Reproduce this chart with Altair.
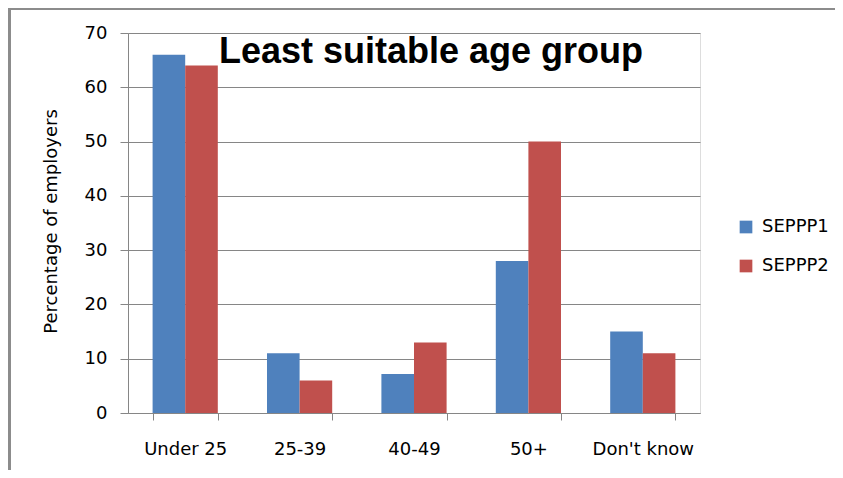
import altair as alt
import pandas as pd

categories = ["Under 25", "25-39", "40-49", "50+", "Don't know"]
series = ["SEPPP1", "SEPPP2"]
seppp1 = [66, 11, 7.2, 28, 15]
seppp2 = [64, 6, 13, 50, 11]
y_ticks = [0, 10, 20, 30, 40, 50, 60, 70]
title_text = "Least suitable age group"
y_title = "Percentage of employers"

rows = []
for i, c in enumerate(categories):
    rows.append({"group": c, "series": series[0], "value": seppp1[i]})
    rows.append({"group": c, "series": series[1], "value": seppp2[i]})
df = pd.DataFrame(rows)

GREY = "#868686"
FONT = "DejaVu Sans"
W, H = 572, 380

bars = alt.Chart(df).mark_bar(size=32.6).encode(
    x=alt.X("group:N", sort=categories,
            scale=alt.Scale(paddingInner=0.43, paddingOuter=0.215),
            axis=alt.Axis(title=None, labelAngle=0, tickBand="extent",
                          tickSize=7, labelPadding=20, labelFont=FONT,
                          labelFontSize=18, labelColor="black",
                          domainColor=GREY, tickColor=GREY, grid=False)),
    xOffset=alt.XOffset("series:N", sort=series,
                        scale=alt.Scale(paddingInner=0, paddingOuter=0)),
    y=alt.Y("value:Q", scale=alt.Scale(domain=[0, 70], nice=False),
            axis=alt.Axis(values=y_ticks, title=y_title, tickSize=8,
                          labelPadding=13, labelFont=FONT, labelFontSize=18,
                          labelColor="black", domainColor=GREY, tickColor=GREY,
                          gridColor=GREY, gridWidth=1, titleFont=FONT,
                          titleFontSize=18, titleFontWeight="normal",
                          titleColor="black", titleX=-77, titleY=188,
                          titleAngle=270, titleAlign="center",
                          titleBaseline="middle")),
    color=alt.Color("series:N", sort=series,
                    scale=alt.Scale(domain=series, range=["#4F81BD", "#C0504D"]),
                    legend=alt.Legend(title=None, orient="none", legendX=609,
                                      legendY=185, symbolType="square",
                                      symbolSize=161, symbolStrokeWidth=0,
                                      labelFont=FONT, labelFontSize=18,
                                      labelColor="black", labelOffset=7,
                                      rowPadding=21)),
)

tdf = pd.DataFrame({"t": [title_text]})
title = alt.Chart(tdf).mark_text(font="Liberation Sans", fontSize=36,
                                 fontWeight="bold", color="black",
                                 align="center", baseline="alphabetic").encode(
    text="t:N", x=alt.value(303), y=alt.value(30))

bdf = pd.DataFrame({"a": [0]})
left_border = alt.Chart(bdf).mark_rule(color="#8c8c8c", strokeWidth=3).encode(
    x=alt.value(-118.5), y=alt.value(-24), y2=alt.value(437))
top_border = alt.Chart(bdf).mark_rule(color="#8c8c8c", strokeWidth=2).encode(
    x=alt.value(-120), x2=alt.value(707), y=alt.value(-24))

chart = alt.layer(bars, title, left_border, top_border).properties(
    width=W, height=H,
    autosize=alt.AutoSizeParams(type="none"),
    padding={"left": 120, "top": 25, "right": 135, "bottom": 57},
).configure_view(stroke=None).configure(background="white")

chart.save("out.html", embed_options={"renderer": "svg", "actions": False})
